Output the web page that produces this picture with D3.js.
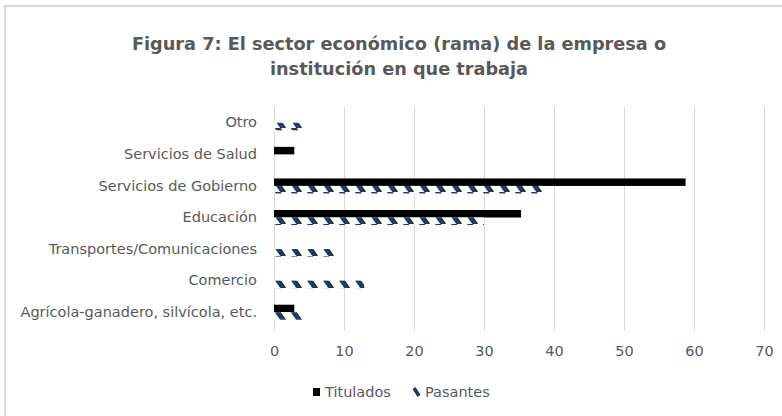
<!DOCTYPE html>
<html>
<head>
<meta charset="utf-8">
<script src="https://cdn.jsdelivr.net/npm/d3@7"></script>
<style>
  body { margin: 0; background: #fff; }
  svg { display: block; font-family: "DejaVu Sans", sans-serif; }
</style>
</head>
<body>
<svg id="chart" width="782" height="416"></svg>
<script>
// data (percent)
var categories = ["Otro", "Servicios de Salud", "Servicios de Gobierno", "Educación",
  "Transportes/Comunicaciones", "Comercio", "Agrícola-ganadero, silvícola, etc."]
var titulados = [0, 2.9, 58.8, 35.3, 0, 0, 2.9]
var pasantes = [4.3, 0, 38.6, 30.0, 8.6, 12.9, 4.3]
var seriesNames = ["Titulados", "Pasantes"]
var xTicks = [0, 10, 20, 30, 40, 50, 60, 70]

var svg = d3.select("#chart")
var textColor = "#595959"
var navy = "#1f3864"
var labelFont = "14.5px"

// hatch pattern for Pasantes
var defs = svg.append("defs")
var pat = defs.append("pattern")
  .attr("id", "hatch")
  .attr("patternUnits", "userSpaceOnUse")
  .attr("x", 274).attr("y", 0)
  .attr("width", 16).attr("height", 8)
pat.append("rect").attr("width", 16).attr("height", 8).attr("fill", "#fff")
pat.append("path")
  .attr("d", "M3,-1 L10,9")
  .attr("stroke", navy)
  .attr("stroke-width", 5)
  .attr("fill", "none")

// outer chart border (right and bottom edges fall outside the picture)
svg.append("rect")
  .attr("x", 5).attr("y", 6)
  .attr("width", 800).attr("height", 500)
  .attr("fill", "#fff")
  .attr("stroke", "#d9d9d9")
  .attr("stroke-width", 2)

// title
var title = svg.append("text")
  .attr("text-anchor", "middle")
  .attr("fill", textColor)
  .style("font-size", "17.7px")
  .style("font-weight", "bold")
title.append("tspan").attr("x", 399).attr("y", 50).text("Figura 7: El sector económico (rama) de la empresa o")
title.append("tspan").attr("x", 399).attr("y", 75).text("institución en que trabaja")

var x = d3.scaleLinear().domain([0, 70]).range([274, 764])
var y = d3.scaleBand().domain(categories).range([107, 328])

// gridlines
svg.append("g")
  .selectAll("line")
  .data(xTicks)
  .join("line")
  .attr("x1", d => x(d) + 0.5).attr("x2", d => x(d) + 0.5)
  .attr("y1", 107).attr("y2", 331)
  .attr("stroke", "#d9d9d9")

// x axis labels
var xAxis = svg.append("g")
  .attr("transform", "translate(0,331)")
  .call(d3.axisBottom(x).tickValues(xTicks).tickSize(0).tickPadding(15))
xAxis.select(".domain").remove()
xAxis.selectAll("text")
  .attr("fill", textColor)
  .style("font-size", labelFont)
  .style("font-family", "DejaVu Sans, sans-serif")

// y axis labels
var yAxis = svg.append("g")
  .attr("transform", "translate(274,0)")
  .call(d3.axisLeft(y).tickSize(0).tickPadding(17))
yAxis.select(".domain").remove()
yAxis.selectAll("text")
  .attr("fill", textColor)
  .style("font-size", labelFont)
  .style("font-family", "DejaVu Sans, sans-serif")

var barH = 7.5

// Titulados bars (above band centre)
svg.append("g")
  .selectAll("rect")
  .data(categories)
  .join("rect")
  .attr("x", x(0))
  .attr("y", (d, i) => y(d) + y.bandwidth() / 2 - barH)
  .attr("width", (d, i) => x(titulados[i]) - x(0))
  .attr("height", barH)
  .attr("fill", "#000")

// Pasantes bars (below band centre)
svg.append("g")
  .selectAll("rect")
  .data(categories)
  .join("rect")
  .attr("x", x(0))
  .attr("y", (d, i) => y(d) + y.bandwidth() / 2)
  .attr("width", (d, i) => x(pasantes[i]) - x(0))
  .attr("height", barH)
  .attr("fill", "url(#hatch)")

// legend
var legend = svg.append("g").attr("transform", "translate(313,392)")
legend.append("rect").attr("x", 0).attr("y", -4).attr("width", 7).attr("height", 8).attr("fill", "#000")
legend.append("text").attr("x", 12).attr("y", 5).attr("fill", textColor)
  .style("font-size", labelFont).text(seriesNames[0])
legend.append("path").attr("d", "M101,-4 L106,4")
  .attr("stroke", navy).attr("stroke-width", 3.6)
legend.append("text").attr("x", 112).attr("y", 5).attr("fill", textColor)
  .style("font-size", labelFont).text(seriesNames[1])
</script>
</body>
</html>
